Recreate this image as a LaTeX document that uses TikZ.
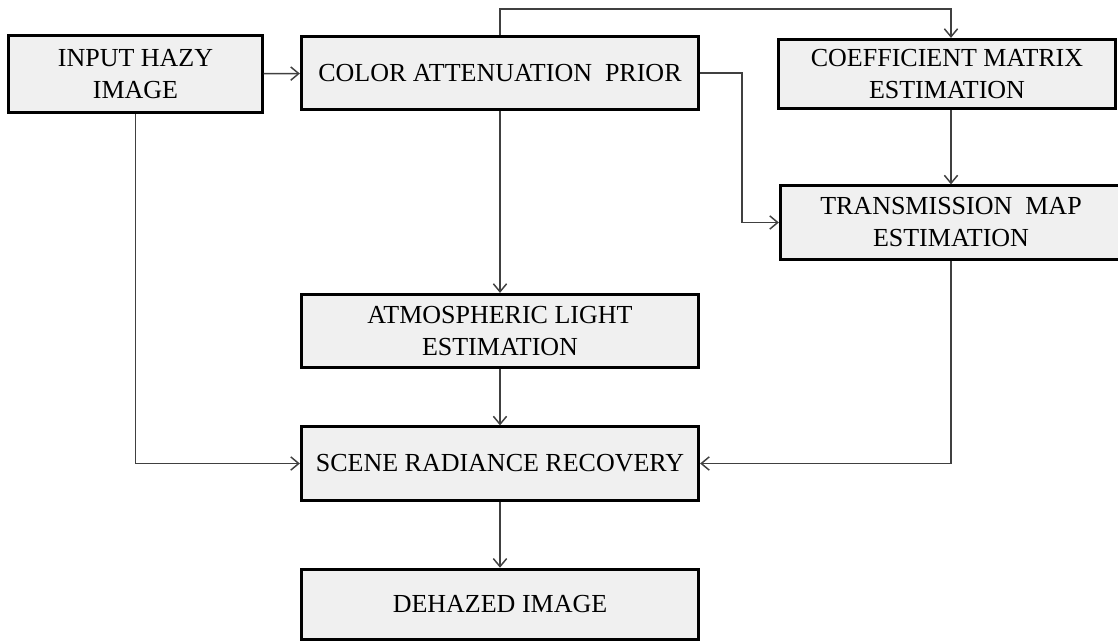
\documentclass[tikz,border=0pt]{standalone}
\usepackage{fontspec}
\setmainfont{Liberation Serif}
\usetikzlibrary{arrows.meta}

\begin{document}
\begin{tikzpicture}[
  x=0.75pt, y=-0.75pt,
  every node/.style = {font=\fontsize{19.5}{24}\selectfont},
  blockbox/.style = {draw=black, line width=2.2pt, fill=gray!12,
                     align=center, inner sep=2pt},
  link/.style = {draw=black!75, line width=1.1pt,
                 -{Straight Barb[length=6pt,width=10pt,line width=1.1pt]}},
]

%% ── Frame: 1 unit = 1 px of the 1118 x 643 layout ───────────────────────────
\useasboundingbox (0,0) rectangle (1118,643);

%% ── Column / row centres (hardcoded) ─────────────────────────────────────────
\def\xIn{135.5}
\def\xMid{500}
\def\yTop{74}
\def\yTr{222.5}
\def\yAtm{331}
\def\ySc{463.5}
\def\yDh{604.5}

%% ── Blocks ───────────────────────────────────────────────────────────────────
\node[blockbox, minimum width=190pt, minimum height=58pt] (input)
  at (\xIn, \yTop) {INPUT HAZY\\IMAGE};
\node[blockbox, minimum width=298pt, minimum height=55pt] (cap)
  at (\xMid, 73) {COLOR ATTENUATION\ \ PRIOR};
\node[blockbox, minimum width=253pt, minimum height=52pt] (coef)
  at (947, \yTop) {COEFFICIENT MATRIX\\ESTIMATION};
\node[blockbox, minimum width=256pt, minimum height=55pt] (trans)
  at (951, \yTr) {TRANSMISSION\ \ MAP\\ESTIMATION};
\node[blockbox, minimum width=298pt, minimum height=55pt] (atmos)
  at (\xMid, \yAtm) {ATMOSPHERIC LIGHT\\ESTIMATION};
\node[blockbox, minimum width=298pt, minimum height=55pt] (scene)
  at (\xMid, \ySc) {SCENE RADIANCE RECOVERY};
\node[blockbox, minimum width=298pt, minimum height=53pt] (dehazed)
  at (\xMid, \yDh) {DEHAZED IMAGE};

%% ── Connectors ───────────────────────────────────────────────────────────────
\draw[link] (input) -- (cap);
\draw[link] (cap.north) -- ++(0,-26) -| ([xshift=3pt]coef.north);
\draw[link] (cap.east) -- ++(42,0) |- (trans.west);
\draw[link] ([xshift=3pt]coef.south) -- ([xshift=3pt]coef.south |- trans.north);
\draw[link] (cap) -- (atmos);
\draw[link] (atmos) -- (scene);
\draw[link] (input.south) |- (scene.west);
\draw[link] (trans.south) |- (scene.east);
\draw[link] (scene) -- (dehazed);

\end{tikzpicture}
\end{document}
